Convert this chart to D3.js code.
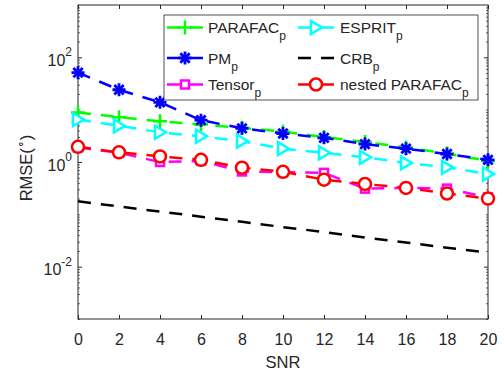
<!DOCTYPE html>
<html>
<head>
<meta charset="utf-8">
<script src="https://cdn.jsdelivr.net/npm/d3@7"></script>
<style>
  body { margin: 0; background: #fff; }
  svg { font-family: "Liberation Sans", Arial, Helvetica, sans-serif; }
</style>
</head>
<body>
<div class="result"></div>
<script>
// Data
const snr = [0, 2, 4, 6, 8, 10, 12, 14, 16, 18, 20];
const parafac = [8.8, 7.2, 6.0, 5.2, 4.5, 3.8, 3.0, 2.4, 1.9, 1.45, 1.05];
const esprit = [6.5, 4.9, 3.7, 3.1, 2.5, 1.8, 1.5, 1.23, 0.96, 0.79, 0.59];
const pm = [51, 24, 13.8, 6.3, 4.4, 3.5, 2.9, 2.2, 1.8, 1.42, 1.1];
const crb = [0.177, 0.141, 0.113, 0.090, 0.072, 0.057, 0.046, 0.036, 0.029, 0.023, 0.0187];
const tensor = [1.9, 1.5, 1.0, 1.05, 0.66, 0.64, 0.62, 0.31, 0.32, 0.31, 0.21];
const nested = [1.95, 1.53, 1.28, 1.1, 0.78, 0.65, 0.46, 0.38, 0.32, 0.25, 0.20];
const xTicks = [0, 2, 4, 6, 8, 10, 12, 14, 16, 18, 20];
const yTicks = [1e-2, 1, 1e2];
const yExp = ['-2', '0', '2'];

// Width and height
const w = 504;
const h = 373;
const mLeft = 78, mRight = 488, mTop = 5, mBottom = 319;
const ink = '#262626';
const dash = '13,10';

const xScale = d3.scaleLinear().domain([0, 20]).range([mLeft, mRight]);
const yScale = d3.scaleLog().domain([1e-3, 1e3]).range([mBottom, mTop]);

const svg = d3.select('.result')
  .append('svg')
  .attr('width', w)
  .attr('height', h);

svg.append('rect').attr('width', w).attr('height', h).attr('fill', '#fff');

// minor log ticks
const minor = [];
for (let e = -3; e < 3; e++) {
  for (let k = 1; k < 10; k++) {
    const v = k * Math.pow(10, e);
    if (yTicks.indexOf(v) < 0) minor.push(v);
  }
}

// X axis (bottom + top)
const xAxis = d3.axisBottom(xScale).tickValues(xTicks).tickSizeInner(-4).tickSizeOuter(0).tickPadding(14.5);
const gx = svg.append('g')
  .attr('transform', 'translate(0,' + mBottom + ')')
  .call(xAxis);
gx.selectAll('text').attr('font-size', 16).attr('fill', ink);
gx.selectAll('line').attr('stroke', ink);
gx.select('.domain').remove();
gx.attr('font-family', null);

const gxt = svg.append('g')
  .attr('transform', 'translate(0,' + mTop + ')')
  .call(d3.axisTop(xScale).tickValues(xTicks).tickSizeInner(-4).tickSizeOuter(0).tickFormat(''));
gxt.selectAll('line').attr('stroke', ink);
gxt.select('.domain').remove();

// Y axis (left + right)
const gy = svg.append('g')
  .attr('transform', 'translate(' + mLeft + ',0)')
  .call(d3.axisLeft(yScale).tickValues(yTicks).tickSizeInner(-4).tickSizeOuter(0).tickFormat(''));
gy.selectAll('line').attr('stroke', ink);
gy.select('.domain').remove();
svg.append('g')
  .attr('transform', 'translate(' + mLeft + ',0)')
  .call(d3.axisLeft(yScale).tickValues(minor).tickSizeInner(-2).tickSizeOuter(0).tickFormat(''))
  .call(g => { g.select('.domain').remove(); g.selectAll('line').attr('stroke', ink).attr('stroke-width', 0.7); });

const gyr = svg.append('g')
  .attr('transform', 'translate(' + mRight + ',0)')
  .call(d3.axisRight(yScale).tickValues(yTicks).tickSizeInner(-4).tickSizeOuter(0).tickFormat(''));
gyr.selectAll('line').attr('stroke', ink);
gyr.select('.domain').remove();
svg.append('g')
  .attr('transform', 'translate(' + mRight + ',0)')
  .call(d3.axisRight(yScale).tickValues(minor).tickSizeInner(-2).tickSizeOuter(0).tickFormat(''))
  .call(g => { g.select('.domain').remove(); g.selectAll('line').attr('stroke', ink).attr('stroke-width', 0.7); });

// y tick labels 10^n
yTicks.forEach(function (v, i) {
  const t = svg.append('text')
    .attr('x', mLeft - 6)
    .attr('y', yScale(v) + 8.5)
    .attr('text-anchor', 'end')
    .attr('fill', ink)
    .attr('font-size', 16);
  t.append('tspan').text('10');
  t.append('tspan').attr('dy', -9.5).attr('font-size', 12).text(yExp[i]);
});

// box
svg.append('rect')
  .attr('x', mLeft).attr('y', mTop)
  .attr('width', mRight - mLeft).attr('height', mBottom - mTop)
  .attr('fill', 'none').attr('stroke', ink).attr('stroke-width', 1);

// axis labels
svg.append('text')
  .attr('x', xScale(10)).attr('y', 368)
  .attr('text-anchor', 'middle').attr('font-size', 16.5).attr('fill', ink)
  .text('SNR');
const yl = svg.append('text')
  .attr('transform', 'translate(32,168) rotate(-90)')
  .attr('text-anchor', 'middle').attr('font-size', 16.5).attr('fill', ink);
yl.append('tspan').text('RMSE(');
yl.append('tspan').attr('dy', -7).attr('font-size', 12).text('∘');
yl.append('tspan').attr('dy', 7).text(')');

// markers
function drawMarker(g, type, color, cx, cy) {
  if (type === 'plus') {
    g.append('path').attr('d', 'M' + (cx - 7) + ',' + cy + 'H' + (cx + 7) + 'M' + cx + ',' + (cy - 7) + 'V' + (cy + 7))
      .attr('stroke', color).attr('stroke-width', 2.5).attr('fill', 'none');
  } else if (type === 'star') {
    const r = 6.5, d = r * 0.72;
    g.append('path')
      .attr('d', 'M' + (cx - r) + ',' + cy + 'H' + (cx + r) + 'M' + cx + ',' + (cy - r) + 'V' + (cy + r) +
        'M' + (cx - d) + ',' + (cy - d) + 'L' + (cx + d) + ',' + (cy + d) +
        'M' + (cx - d) + ',' + (cy + d) + 'L' + (cx + d) + ',' + (cy - d))
      .attr('stroke', color).attr('stroke-width', 2.8).attr('fill', 'none');
  } else if (type === 'tri') {
    g.append('path')
      .attr('d', 'M' + (cx - 5) + ',' + (cy - 6.5) + 'L' + (cx + 6) + ',' + cy + 'L' + (cx - 5) + ',' + (cy + 6.5) + 'Z')
      .attr('stroke', color).attr('stroke-width', 2.5).attr('fill', '#fff');
  } else if (type === 'square') {
    g.append('rect').attr('x', cx - 4).attr('y', cy - 4).attr('width', 8).attr('height', 8)
      .attr('stroke', color).attr('stroke-width', 2.5).attr('fill', '#fff');
  } else if (type === 'circle') {
    g.append('circle').attr('cx', cx).attr('cy', cy).attr('r', 6)
      .attr('stroke', color).attr('stroke-width', 2.5).attr('fill', '#fff');
  }
}

const series = [
  { name: 'PARAFAC', values: parafac, color: '#00ff00', marker: 'plus' },
  { name: 'ESPRIT', values: esprit, color: '#00ffff', marker: 'tri' },
  { name: 'PM', values: pm, color: '#0000ff', marker: 'star' },
  { name: 'CRB', values: crb, color: '#000000', marker: null },
  { name: 'Tensor', values: tensor, color: '#ff00ff', marker: 'square' },
  { name: 'nested PARAFAC', values: nested, color: '#ff0000', marker: 'circle' }
];

const line = d3.line()
  .x(function (d, i) { return xScale(snr[i]); })
  .y(function (d) { return yScale(d); });

const plot = svg.append('g');
series.forEach(function (s) {
  const g = plot.append('g');
  g.append('path')
    .attr('d', line(s.values))
    .attr('fill', 'none')
    .attr('stroke', s.color)
    .attr('stroke-width', 2.5)
    .attr('stroke-dasharray', dash);
  if (s.marker) {
    s.values.forEach(function (v, i) {
      drawMarker(g, s.marker, s.color, xScale(snr[i]), yScale(v));
    });
  }
});

// Legend
const lg = svg.append('g');
lg.append('rect')
  .attr('x', 164).attr('y', 15).attr('width', 314).attr('height', 85)
  .attr('fill', '#fff').attr('stroke', ink).attr('stroke-width', 0.8);
const rows = [27.5, 58, 84.5];
const cols = [[167, 203, 208], [298, 334, 340]];
series.forEach(function (s, i) {
  const c = cols[i % 2], ry = rows[Math.floor(i / 2)];
  lg.append('line')
    .attr('x1', c[0]).attr('x2', c[1]).attr('y1', ry).attr('y2', ry)
    .attr('stroke', s.color).attr('stroke-width', 2.5)
    .attr('stroke-dasharray', dash);
  if (s.marker) drawMarker(lg, s.marker, s.color, (c[0] + c[1]) / 2, ry);
  const t = lg.append('text')
    .attr('x', c[2]).attr('y', ry + 5.5)
    .attr('font-size', 15.5).attr('fill', ink);
  t.append('tspan').text(s.name);
  t.append('tspan').attr('dy', 7).attr('font-size', 12).text('p');
});
</script>
</body>
</html>
